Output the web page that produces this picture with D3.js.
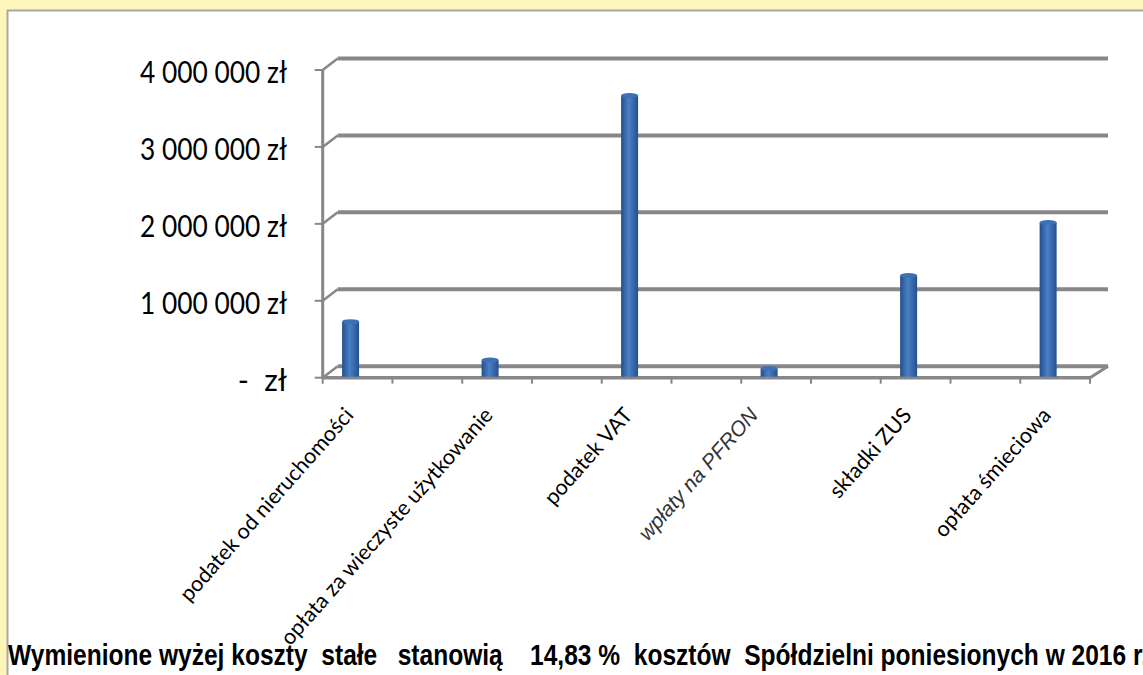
<!DOCTYPE html>
<html>
<head>
<meta charset="utf-8">
<script src="https://cdn.jsdelivr.net/npm/d3@7"></script>
<style>
  body { margin: 0; background: #fdf5b9; }
  svg { display: block; }
</style>
</head>
<body>
<svg id="canvas" width="1143" height="675"></svg>
<script>
// slots between the named columns are empty in the original sheet
var categories = ['podatek od nieruchomości', '', 'opłata za wieczyste użytkowanie', '', 'podatek VAT', '',
  'wpłaty na PFRON', '', 'składki ZUS', '', 'opłata śmieciowa'];
var values = [680000, null, 180000, null, 3620000, null, 70000, null, 1280000, null, 1970000];
var yTicks = [0, 1000000, 2000000, 3000000, 4000000];
var yTickLabels = ['-  zł', '1 000 000 zł', '2 000 000 zł', '3 000 000 zł', '4 000 000 zł'];
var footnote = 'Wymienione wyżej koszty  stałe   stanowią    14,83 %  kosztów  Spółdzielni poniesionych w 2016 r.';

var svg = d3.select('#canvas');

// white panel
svg.append('rect')
  .attr('x', 7.5).attr('y', 10.5)
  .attr('width', 1200).attr('height', 700)
  .attr('fill', '#fff')
  .attr('stroke', '#a8a8a8')
  .attr('stroke-width', 2);

var x = d3.scaleBand()
  .domain(d3.range(categories.length))
  .range([322.7, 1090]);
var y = d3.scaleLinear()
  .domain([0, 4000000])
  .range([377.7, 70]);

// depth of the 3D box
var dx = 15, dy = -11.5;
var x0 = x.range()[0], x1 = x.range()[1], y0 = y(0);
var gridColor = '#878787';

var grid = svg.append('g');
// back wall lines plus the small slant back from the axis
yTicks.forEach(function(v) {
  grid.append('line')
    .attr('x1', x0 + dx).attr('y1', y(v) + dy)
    .attr('x2', x1 + dx + 3).attr('y2', y(v) + dy)
    .attr('stroke', gridColor).attr('stroke-width', 4);
  grid.append('line')
    .attr('x1', x0).attr('y1', y(v))
    .attr('x2', x0 + dx).attr('y2', y(v) + dy)
    .attr('stroke', gridColor).attr('stroke-width', 2.5);
});

// floor front edge and right slant
grid.append('line')
  .attr('x1', x0).attr('y1', y0).attr('x2', x1).attr('y2', y0)
  .attr('stroke', gridColor).attr('stroke-width', 3.5);
grid.append('line')
  .attr('x1', x1).attr('y1', y0).attr('x2', x1 + dx + 3).attr('y2', y0 + dy)
  .attr('stroke', gridColor).attr('stroke-width', 3);

// left axis
grid.append('line')
  .attr('x1', x0).attr('y1', y(4000000)).attr('x2', x0).attr('y2', y0 + 1)
  .attr('stroke', gridColor).attr('stroke-width', 3);
yTicks.forEach(function(v) {
  grid.append('line')
    .attr('x1', x0 - 8).attr('y1', y(v)).attr('x2', x0).attr('y2', y(v))
    .attr('stroke', gridColor).attr('stroke-width', 2);
});
// category ticks
d3.range(categories.length + 1).forEach(function(i) {
  var tx = x0 + i * x.bandwidth();
  grid.append('line')
    .attr('x1', tx).attr('y1', y0).attr('x2', tx).attr('y2', y0 + 6)
    .attr('stroke', gridColor).attr('stroke-width', 2);
});

// y labels
svg.append('g').selectAll('text')
  .data(yTicks)
  .enter()
  .append('text')
  .attr('x', 287)
  .attr('y', function(d) { return y(d) + 1; })
  .attr('text-anchor', 'end')
  .attr('dominant-baseline', 'central')
  .style('white-space', 'pre')
  .attr('font-family', 'Lato, sans-serif')
  .attr('font-size', 30)
  .attr('textLength', function(d) { return d === 0 ? null : 147; })
  .attr('lengthAdjust', 'spacingAndGlyphs')
  .attr('fill', '#000')
  .text(function(d, i) { return yTickLabels[i]; });

// bars (cylinders)
var grad = svg.append('defs').append('linearGradient')
  .attr('id', 'barGrad').attr('x1', 0).attr('x2', 1).attr('y1', 0).attr('y2', 0);
grad.append('stop').attr('offset', '0%').attr('stop-color', '#234f8d');
grad.append('stop').attr('offset', '45%').attr('stop-color', '#4a80c6');
grad.append('stop').attr('offset', '100%').attr('stop-color', '#24508e');

var barW = 17;
var bars = categories.map(function(c, i) { return { cat: c, i: i, v: values[i] }; })
  .filter(function(d) { return d.v != null; });

function barCx(d) { return x(d.i) + x.bandwidth() / 2 - 7; }
function barTop(d) { return y(d.v) + dy / 2; }

var barG = svg.append('g');
barG.selectAll('rect')
  .data(bars)
  .enter()
  .append('rect')
  .attr('x', function(d) { return barCx(d) - barW / 2; })
  .attr('y', function(d) { return barTop(d) + 2; })
  .attr('width', barW)
  .attr('height', function(d) { return (y0 - 1) - (barTop(d) + 2); })
  .attr('fill', 'url(#barGrad)');
barG.selectAll('ellipse')
  .data(bars)
  .enter()
  .append('ellipse')
  .attr('cx', function(d) { return barCx(d); })
  .attr('cy', function(d) { return barTop(d) + 2; })
  .attr('rx', barW / 2)
  .attr('ry', 2.5)
  .attr('fill', '#3d70b4');

// category labels
var isPfron = function(d) { return d.cat === 'wpłaty na PFRON'; };
svg.append('g').selectAll('text')
  .data(bars)
  .enter()
  .append('text')
  .attr('transform', function(d) {
    return 'translate(' + (barCx(d) + (isPfron(d) ? -10 : 4)) + ',416) rotate(-48.5)';
  })
  .attr('text-anchor', 'end')
  .attr('font-family', function(d) { return isPfron(d) ? 'Liberation Sans, Arial, sans-serif' : 'Lato, sans-serif'; })
  .attr('font-style', function(d) { return isPfron(d) ? 'italic' : 'normal'; })
  .attr('font-size', function(d) { return isPfron(d) ? 21 : 21.5; })
  .attr('fill', function(d) { return isPfron(d) ? '#333' : '#000'; })
  .text(function(d) { return d.cat; });

// footnote
svg.append('text')
  .attr('x', 8)
  .attr('y', 665)
  .style('white-space', 'pre')
  .attr('font-family', '"Liberation Sans", Arial, sans-serif')
  .attr('font-weight', 'bold')
  .attr('font-size', 29)
  .attr('textLength', 1140)
  .attr('lengthAdjust', 'spacingAndGlyphs')
  .attr('fill', '#000')
  .text(footnote);
</script>
</body>
</html>
